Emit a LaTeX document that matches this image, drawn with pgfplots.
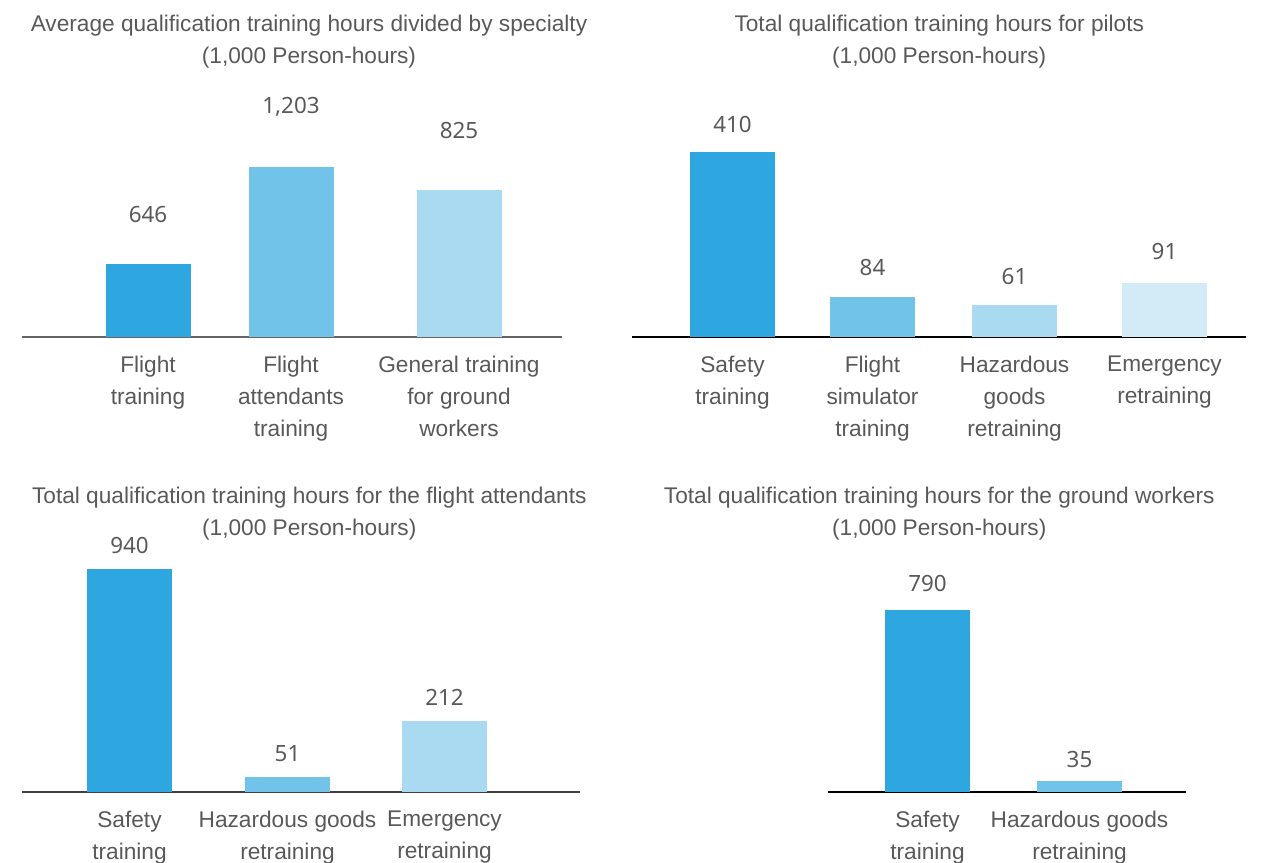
\documentclass[border=0pt]{standalone}
\usepackage{fontspec}
\setmainfont{Liberation Sans}
\newfontfamily\numfont{Noto Sans}
\usepackage{pgfplots}
\pgfplotsset{compat=1.18}
\definecolor{cA}{HTML}{2EA6E0}
\definecolor{cB}{HTML}{72C3E9}
\definecolor{cC}{HTML}{A9DAF1}
\definecolor{cD}{HTML}{D3EAF7}
\definecolor{tg}{HTML}{595959}
\newcommand\tfont{\fontsize{17}{24}\selectfont}
\pgfplotsset{
  panel/.style={
    x=0.75pt, y=0.75pt, anchor=south west, clip=false,
    ymin=0,
    axis x line=bottom, axis y line=none,
    x axis line style={-, line width=0.9pt},
    xtick style={draw=none},
    ytick=\empty,
    xticklabel style={align=center, font=\tfont, text=tg, anchor=north, yshift=-8.75pt},
    title style={font=\tfont, text=tg, align=center, anchor=center, yshift=-7.5pt},
  },
  bb/.style={ybar, bar width=63.75pt, bar shift=0pt, draw=none, fill=#1},
  lab/.style={draw=none, mark=none, nodes near coords, point meta=explicit symbolic,
    nodes near coords style={anchor=center, font=\numfont\fontsize{16.8}{20}\selectfont, text=tg, inner sep=0pt}},
}
\begin{document}
\begin{tikzpicture}
\path[use as bounding box] (0,0) rectangle (945.75pt,-647.25pt);
% Panel 1
\begin{axis}[panel, at={(16.5pt,-252.75pt)}, xmin=22, xmax=562, ymax=297,
  x axis line style={draw=black!60},
  title={Average qualification training hours divided by specialty\\(1,000 Person-hours)},
  title style={at={(0.5315,1)}},
  xtick={148,291,459},
  xticklabels={{Flight\\training},{Flight\\attendants\\training},{General training\\for ground\\workers}}]
\addplot[bb=cA] coordinates {(148,73)};
\addplot[bb=cB] coordinates {(291,170)};
\addplot[bb=cC] coordinates {(459,147)};
\addplot[lab] table[x=x, y=ly, meta=lab] {
x ly lab
148 122 646
291 230 1,203
459 206 825
};
\end{axis}
% Panel 2
\begin{axis}[panel, at={(474pt,-252.75pt)}, xmin=632, xmax=1246, ymax=297,
  x axis line style={draw=black},
  title={Total qualification training hours for pilots\\(1,000 Person-hours)},
  title style={at={(0.5004,1)}},
  xtick={732.5,872.5,1014.5,1164.5},
  xticklabels={{Safety\\training},{Flight\\simulator\\training},{Hazardous\\goods\\retraining},{Emergency\\retraining}}]
\addplot[bb=cA] coordinates {(732.5,185)};
\addplot[bb=cB] coordinates {(872.5,40)};
\addplot[bb=cC] coordinates {(1014.5,32)};
\addplot[bb=cD] coordinates {(1164.5,54)};
\addplot[lab] table[x=x, y=ly, meta=lab] {
x ly lab
732.5 213 410
872.5 69 84
1014.5 60 61
1164.5 85 91
};
\end{axis}
% Panel 3
\begin{axis}[panel, at={(16.5pt,-594pt)}, xmin=22, xmax=580, ymax=280,
  x axis line style={draw=black!75},
  title={Total qualification training hours for the flight attendants\\(1,000 Person-hours)},
  title style={at={(0.5148,1)}},
  xtick={129.5,287.5,444.5},
  xticklabels={{Safety\\training},{Hazardous goods\\retraining},{Emergency\\retraining}}]
\addplot[bb=cA] coordinates {(129.5,223)};
\addplot[bb=cB] coordinates {(287.5,15)};
\addplot[bb=cC] coordinates {(444.5,71)};
\addplot[lab] table[x=x, y=ly, meta=lab] {
x ly lab
129.5 247 940
287.5 38 51
444.5 95 212
};
\end{axis}
% Panel 4
\begin{axis}[panel, at={(621pt,-594pt)}, xmin=828, xmax=1186, ymax=280,
  x axis line style={draw=black},
  title={Total qualification training hours for the ground workers\\(1,000 Person-hours)},
  title style={at={(0.3108,1)}},
  xtick={927.5,1079.5},
  xticklabels={{Safety\\training},{Hazardous goods\\retraining}}]
\addplot[bb=cA] coordinates {(927.5,182)};
\addplot[bb=cB] coordinates {(1079.5,11)};
\addplot[lab] table[x=x, y=ly, meta=lab] {
x ly lab
927.5 209 790
1079.5 33 35
};
\end{axis}
\end{tikzpicture}
\end{document}
